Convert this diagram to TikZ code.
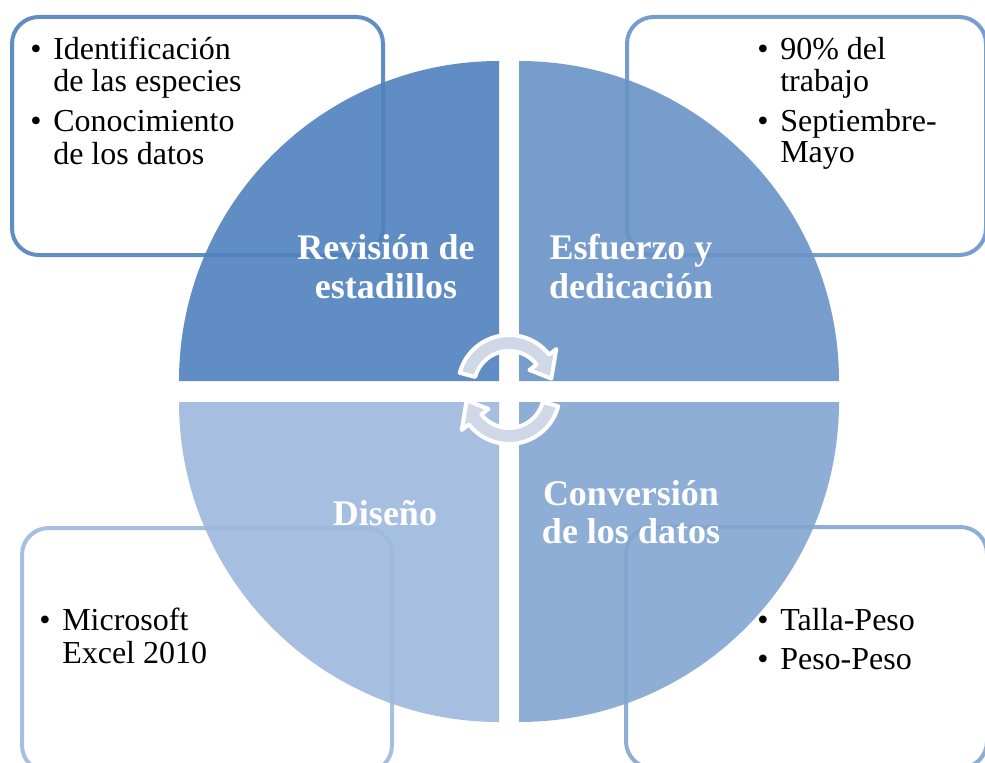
\documentclass[tikz,border=0pt]{standalone}
\usepackage{fontspec}
\setmainfont{Liberation Serif}
\usetikzlibrary{calc}
\definecolor{qTL}{RGB}{79,129,189}
\definecolor{qTR}{RGB}{105,147,199}
\definecolor{qBR}{RGB}{130,166,209}
\definecolor{qBL}{RGB}{157,185,221}
\definecolor{arrfill}{RGB}{208,216,232}
\begin{document}
\begin{tikzpicture}[x=0.75pt,y=-0.75pt,
  box/.style={line width=3pt, rounded corners=20pt, draw opacity=0.9},
  quad/.style={fill opacity=0.9},
  body/.style={font=\fontsize{24}{24}\selectfont, anchor=base west, inner sep=0pt, text=black},
  lab/.style={font=\fontsize{27}{29}\selectfont\bfseries, anchor=base, inner sep=0pt, text=white},
  arr/.style={fill=arrfill, draw=white, line width=3pt, line join=round}]
\useasboundingbox (0,0) rectangle (985,763);
\clip (0,0) rectangle (985,763);
\fill[white] (0,0) rectangle (985,763);

% text boxes
\draw[box, draw=qTL] (12,17) rectangle (383,255);
\draw[box, draw=qTR] (627,17) rectangle (986,255);
\draw[box, draw=qBL] (22,528) rectangle (392,772);
\draw[box, draw=qBR] (626,527) rectangle (987,768);

% quadrants
\fill[quad, qTL] (499,381) -- (179,381) arc[start angle=180, end angle=270, radius=320] -- cycle;
\fill[quad, qTR] (519,381) -- (519,61) arc[start angle=270, end angle=360, radius=320] -- cycle;
\fill[quad, qBR] (519,402) -- (839,402) arc[start angle=0, end angle=90, radius=320] -- cycle;
\fill[quad, qBL] (499,402) -- (499,722) arc[start angle=90, end angle=180, radius=320] -- cycle;

% center circular arrows
\coordinate (C1) at (509,386);
\coordinate (C2) at (509,393);
\filldraw[arr] ($(C1)+(195:51)$) arc[start angle=195, end angle=322, radius=51]
  -- ($(C1)+(322:60)$) -- ($(C1)+(350:43)$) -- ($(C1)+(322:26)$) -- ($(C1)+(322:35)$)
  arc[start angle=322, end angle=195, radius=35] -- cycle;
\filldraw[arr] ($(C2)+(15:51)$) arc[start angle=15, end angle=142, radius=51]
  -- ($(C2)+(142:60)$) -- ($(C2)+(170:43)$) -- ($(C2)+(142:26)$) -- ($(C2)+(142:35)$)
  arc[start angle=142, end angle=15, radius=35] -- cycle;

% quadrant labels
\node[lab] (l1a) at (386,259) {Revisión de};
\node[lab] (l1b) at (386,298) {estadillos};
\node[lab] (l2a) at (631,259) {Esfuerzo y};
\node[lab] (l2b) at (631,298) {dedicación};
\node[lab] (l3a) at (631,505) {Conversión};
\node[lab] (l3b) at (631,543) {de los datos};
\node[lab] (l4a) at (385,525) {Diseño};

% top-left box text
\node[body] (tlb1) at (30,60) {\textbullet};
\node[body] (tl1a) at (53,60) {Identificación};
\node[body] (tl1b) at (53,92) {de las especies};
\node[body] (tlb2) at (30,132) {\textbullet};
\node[body] (tl2a) at (53,132) {Conocimiento};
\node[body] (tl2b) at (53,165) {de los datos};

% top-right box text
\node[body] (trb1) at (757,60) {\textbullet};
\node[body] (tr1a) at (780,60) {90\% del};
\node[body] (tr1b) at (780,92) {trabajo};
\node[body] (trb2) at (757,132) {\textbullet};
\node[body] (tr2a) at (780,132) {Septiembre-};
\node[body] (tr2b) at (780,163) {Mayo};

% bottom-left box text
\node[body] (blb1) at (39,630) {\textbullet};
\node[body] (bl1a) at (62,630) {Microsoft};
\node[body] (bl1b) at (62,663) {Excel 2010};

% bottom-right box text
\node[body] (brb1) at (757,630) {\textbullet};
\node[body] (br1a) at (780,630) {Talla-Peso};
\node[body] (brb2) at (757,669) {\textbullet};
\node[body] (br2a) at (780,669) {Peso-Peso};
\end{tikzpicture}
\end{document}
